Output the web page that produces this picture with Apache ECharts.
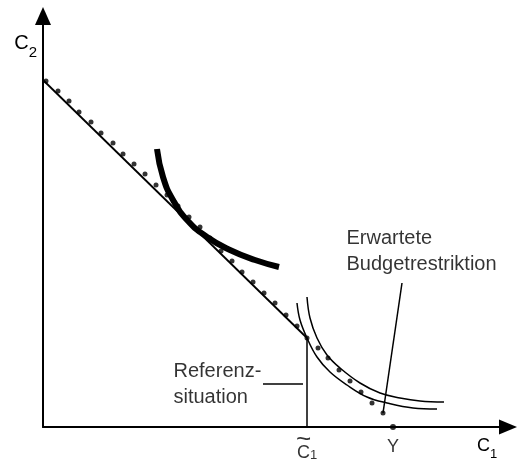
<!DOCTYPE html>
<html>
<head>
<meta charset="utf-8">
<script src="https://cdn.jsdelivr.net/npm/echarts@6/dist/echarts.min.js"></script>
<style>
  html, body { margin: 0; padding: 0; background: #fff; }
  #chart { width: 517px; height: 462px; }
</style>
</head>
<body>
<div id="chart"></div>
<script>
const budgetLine = [[0, 347], [264, 89]];
const budgetDotsX = [3, 15, 26, 36, 48, 58, 70, 80, 91, 102, 113, 124, 135, 146, 157, 167,
  178, 189, 199, 210, 221, 232, 243, 254, 264, 275, 285, 296, 307, 318, 329, 340];
const budgetDotsY = [346, 336, 326, 315, 305, 294, 284, 273, 263, 253, 242, 232, 221, 210, 200, 189,
  176, 166, 155, 145, 134, 124, 112, 101, 89, 79, 69, 57, 46, 35, 24, 14];
const indifferenceCurve = [[114, 278], [120, 250], [130, 227], [145, 206], [164, 190],
  [187, 177], [212, 167], [236, 160]];
const expectedInner = [[254, 124], [257, 107], [264, 89], [274, 70], [287, 55], [304, 42],
  [324, 30], [344, 24], [370, 19], [394, 18]];
const expectedOuter = [[264, 130], [267, 109], [274, 89], [284, 72], [297, 59], [317, 44],
  [337, 34], [357, 29], [377, 26], [401, 25]];
const referenceDrop = [[264, 89], [264, 0]];
const tickValues = [264, 350];
const tickLabels = ['{t|~}\n{c|C}{s|1}', '{c|Y}'];
const tickDot = [0, 6];
const notes = ['Erwartete\nBudgetrestriktion', 'Referenz-\nsituation'];
const notePos = [[304, 201], [131, 68]];
const leaders = [[[359, 144], [340, 14]], [[220, 43], [260, 43]]];

const ink = '#000';
const font = 'Liberation Sans';

const lineSeries = (data, width, smooth, z) => ({
  type: 'line',
  data: data,
  symbol: 'none',
  smooth: smooth,
  z: z,
  lineStyle: { color: ink, width: width },
  silent: true
});

const chart = echarts.init(document.getElementById('chart'));
chart.setOption({
  animation: false,
  backgroundColor: '#fff',
  grid: { left: 43, right: 9, top: 16, bottom: 35 },
  xAxis: {
    type: 'value',
    min: 0,
    max: 465,
    axisLine: { lineStyle: { color: ink, width: 2 }, symbol: ['none', 'triangle'], symbolSize: [15, 18] },
    axisTick: { show: false },
    axisLabel: { show: false },
    splitLine: { show: false },
    name: '{c|C}{s|1}',
    nameLocation: 'end',
    nameGap: -31,
    nameTextStyle: {
      verticalAlign: 'top',
      padding: [10, 0, 0, 0],
      rich: {
        c: { fontFamily: font, fontSize: 18, color: ink, lineHeight: 24, verticalAlign: 'top' },
        s: { fontFamily: font, fontSize: 13, color: ink, lineHeight: 24, verticalAlign: 'bottom' }
      }
    }
  },
  yAxis: {
    type: 'value',
    min: 0,
    max: 411,
    axisLine: { lineStyle: { color: ink, width: 2 }, symbol: ['none', 'triangle'], symbolSize: [16, 18] },
    axisTick: { show: false },
    axisLabel: { show: false },
    splitLine: { show: false },
    name: '{c|C}{s|2}',
    nameLocation: 'end',
    nameGap: -17,
    nameTextStyle: {
      align: 'right',
      verticalAlign: 'top',
      padding: [0, 6, 0, 0],
      rich: {
        c: { fontFamily: font, fontSize: 20, color: ink, lineHeight: 27, verticalAlign: 'top' },
        s: { fontFamily: font, fontSize: 15, color: ink, lineHeight: 27, verticalAlign: 'bottom' }
      }
    }
  },
  series: [
    lineSeries(budgetLine, 1.8, false, 2),
    {
      type: 'scatter',
      data: budgetDotsX.map((x, i) => [x, budgetDotsY[i]]),
      symbol: 'circle',
      symbolSize: 5,
      itemStyle: { color: ink },
      z: 2,
      silent: true
    },
    lineSeries(indifferenceCurve, 6, 0.5, 5),
    lineSeries(expectedInner, 1.5, 0.4, 3),
    lineSeries(expectedOuter, 1.5, 0.4, 3),
    lineSeries(referenceDrop, 1.5, false, 3),
    lineSeries(leaders[0], 1.5, false, 3),
    lineSeries(leaders[1], 1.5, false, 3),
    {
      type: 'scatter',
      data: tickValues.map((x, i) => ({ value: [x, 0], symbolSize: tickDot[i] })),
      symbol: 'circle',
      itemStyle: { color: ink },
      z: 4,
      silent: true,
      label: {
        show: true,
        position: 'bottom',
        distance: 8,
        align: 'center',
        formatter: (p) => tickLabels[p.dataIndex],
        rich: {
          t: { fontFamily: font, fontSize: 26, color: ink, lineHeight: 9, padding: [0, 7, 0, 0] },
          c: { fontFamily: font, fontSize: 18, color: ink, lineHeight: 18, verticalAlign: 'top' },
          s: { fontFamily: font, fontSize: 13, color: ink, lineHeight: 18, verticalAlign: 'bottom' }
        }
      }
    },
    {
      type: 'scatter',
      data: notePos,
      symbolSize: 1,
      itemStyle: { color: 'transparent' },
      silent: true,
      label: {
        show: true,
        position: [0, 0],
        align: 'left',
        verticalAlign: 'top',
        fontFamily: font,
        fontSize: 20,
        lineHeight: 26,
        color: ink,
        formatter: (p) => notes[p.dataIndex]
      }
    }
  ]
});
</script>
</body>
</html>
